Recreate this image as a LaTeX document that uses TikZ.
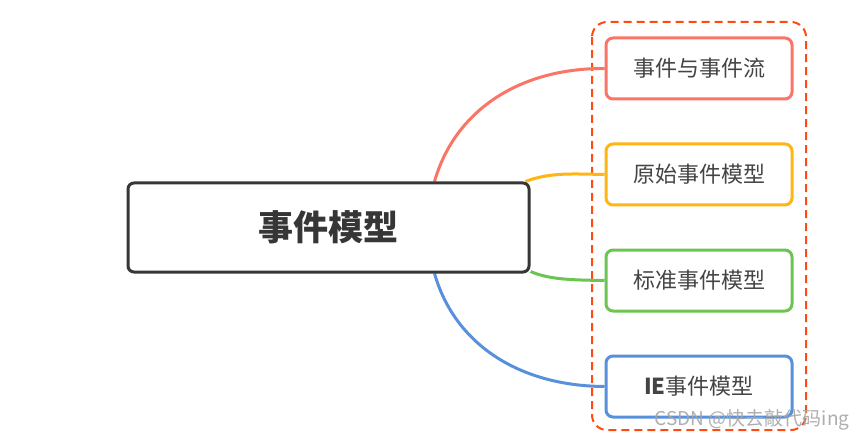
\documentclass[tikz,border=0pt]{standalone}
\usepackage{fontspec}
\newfontfamily\cjk{Noto Sans CJK SC}
\usepackage{tikz}
\usetikzlibrary{backgrounds}
\definecolor{mainline}{HTML}{363636}
\definecolor{textgray}{HTML}{444444}
\definecolor{cred}{HTML}{FA7566}
\definecolor{corange}{HTML}{FFB514}
\definecolor{cgreen}{HTML}{6CC552}
\definecolor{cblue}{HTML}{5990DC}
\definecolor{cframe}{HTML}{FF4B12}

\begin{document}
\begin{tikzpicture}[x=1pt, y=-1pt,
		topic/.style={draw=mainline, line width=3pt, rounded corners=6pt, fill=white, minimum width=401pt, minimum height=89pt, font=\cjk\bfseries\fontsize{35}{40}\selectfont, text=mainline},
		sub/.style={draw=#1, line width=3pt, rounded corners=7pt, fill=white, minimum width=186pt, minimum height=61pt, font=\cjk\fontsize{22}{26}\selectfont, text=textgray},
		link/.style={draw=#1, line width=3pt}
	]
		\useasboundingbox (0,0) rectangle (868,441);
		\node[topic] (main) at (328.5,227.5) {事件模型};
		\node[sub=cred] (flow) at (699,68.5) {事件与事件流};
		\node[sub=corange] (raw) at (699,174.5) {原始事件模型};
		\node[sub=cgreen] (std) at (699,280.5) {标准事件模型};
		\node[sub=cblue] (ie) at (699,386.5) {\textbf{IE}事件模型};
		\coordinate (a1) at ([xshift=-96pt]main.north east);
		\coordinate (a2) at ([xshift=-5pt]main.north east);
		\coordinate (a3) at ([yshift=2pt]main.south east);
		\coordinate (a4) at ([xshift=-96pt]main.south east);
		\begin{scope}[on background layer]
		\fill[white] (0,0) rectangle (868,441);
		% dashed frame round the sub topics
		\draw[cframe, line width=2pt, dash pattern=on 8pt off 5pt, rounded corners=15pt] (592,22) rectangle (806,430);
		\path[link=cred] (a1) .. controls (455,110) and (520,68) .. (flow.west);
		\path[link=corange] (a2) .. controls (550,172) and (575,174) .. (raw.west);
		\path[link=cgreen] (a3) .. controls (550,280) and (575,280) .. (std.west);
		\path[link=cblue] (a4) .. controls (455,345) and (520,386) .. (ie.west);
		\end{scope}
		\node[font=\cjk\fontsize{19}{22}\selectfont, text=gray!70, opacity=0.9, anchor=east] (mark) at (853,420) {CSDN @快去敲代码ing};
	\end{tikzpicture}
\end{document}
